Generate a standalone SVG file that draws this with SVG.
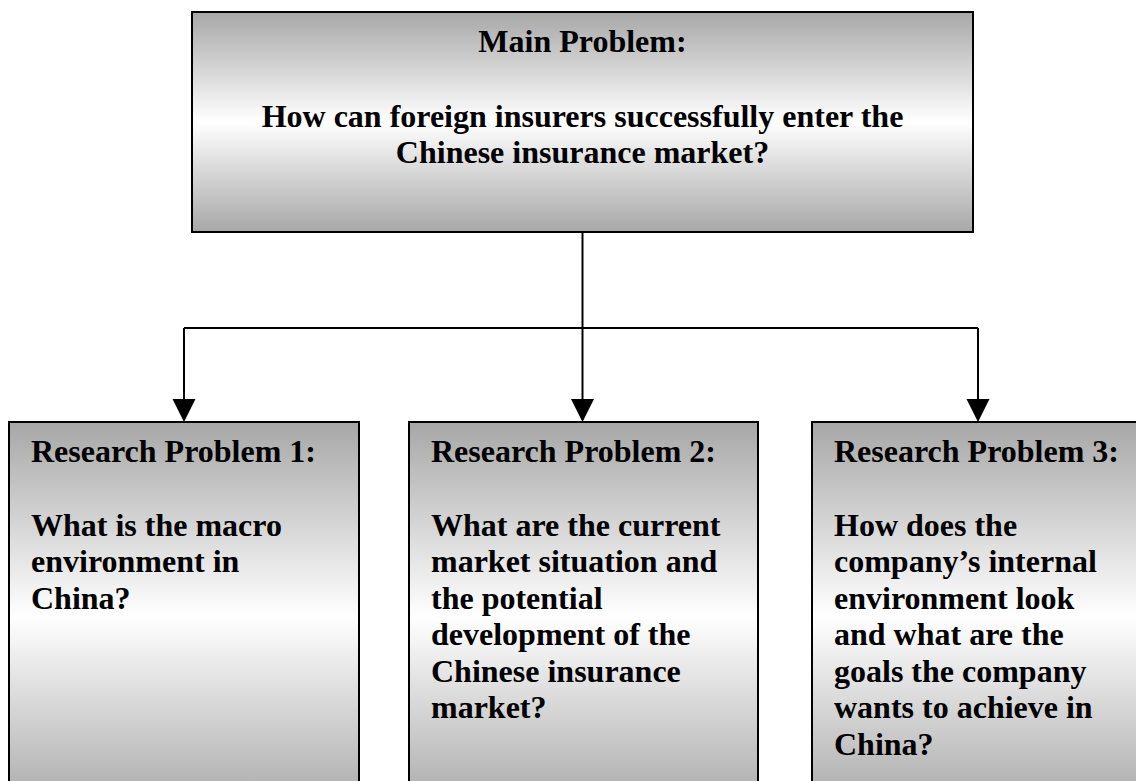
<svg xmlns="http://www.w3.org/2000/svg" width="1136" height="781" viewBox="0 0 1136 781">
  <style>
    .box { stroke: #000; stroke-width: 2; }
    .txt { font-family: "Liberation Serif", "Times New Roman", serif; font-weight: bold; font-size: 32px; fill: #000; }
    .conn { fill: none; stroke: #000; stroke-width: 2; }
  </style>
  <defs>
    <linearGradient id="grad" x1="0" y1="0" x2="0" y2="1">
      <stop offset="0" stop-color="#a7a7a7"/>
      <stop offset="0.5" stop-color="#ffffff"/>
      <stop offset="1" stop-color="#a7a7a7"/>
    </linearGradient>
    <marker id="arrow" markerUnits="userSpaceOnUse" markerWidth="24" markerHeight="24" viewBox="0 0 24 24" refX="12" refY="23" orient="auto-start-reverse">
      <path d="M0,0 L24,0 L12,23 Z" fill="#000"/>
    </marker>
  </defs>
  <rect width="1136" height="781" fill="#fff"/>

  <g id="connectors">
    <path class="conn" d="M582.5,233 V328"/>
    <path class="conn" d="M184,328 H978"/>
    <path class="conn" d="M184,328 V420"/>
    <path class="conn" d="M582.5,328 V420"/>
    <path class="conn" d="M978,328 V420"/>
    <path d="M172.5,399 L195.5,399 L184,422 Z" fill="#000"/>
    <path d="M571,399 L594,399 L582.5,422 Z" fill="#000"/>
    <path d="M966.5,399 L989.5,399 L978,422 Z" fill="#000"/>
  </g>

  <g id="main">
    <rect class="box" x="192" y="12" width="781" height="220" fill="url(#grad)"/>
    <text class="txt" x="582.5" y="52" text-anchor="middle">Main Problem:</text>
    <text class="txt" x="582.5" y="127" text-anchor="middle">How can foreign insurers successfully enter the</text>
    <text class="txt" x="582.5" y="163" text-anchor="middle">Chinese insurance market?</text>
  </g>

  <g id="rp1">
    <rect class="box" x="9" y="422" width="350" height="390" fill="url(#grad)"/>
    <text class="txt" x="31" y="462">Research Problem 1:</text>
    <text class="txt" x="31" y="536">What is the macro</text>
    <text class="txt" x="31" y="572">environment in</text>
    <text class="txt" x="31" y="609">China?</text>
  </g>

  <g id="rp2">
    <rect class="box" x="409" y="422" width="349" height="390" fill="url(#grad)"/>
    <text class="txt" x="431" y="462">Research Problem 2:</text>
    <text class="txt" x="431" y="536">What are the current</text>
    <text class="txt" x="431" y="572">market situation and</text>
    <text class="txt" x="431" y="609">the potential</text>
    <text class="txt" x="431" y="645">development of the</text>
    <text class="txt" x="431" y="682">Chinese insurance</text>
    <text class="txt" x="431" y="718">market?</text>
  </g>

  <g id="rp3">
    <rect class="box" x="812" y="422" width="334" height="390" fill="url(#grad)"/>
    <text class="txt" x="834" y="462">Research Problem 3:</text>
    <text class="txt" x="834" y="536">How does the</text>
    <text class="txt" x="834" y="572">company’s internal</text>
    <text class="txt" x="834" y="609">environment look</text>
    <text class="txt" x="834" y="645">and what are the</text>
    <text class="txt" x="834" y="682">goals the company</text>
    <text class="txt" x="834" y="718">wants to achieve in</text>
    <text class="txt" x="834" y="755">China?</text>
  </g>
</svg>
